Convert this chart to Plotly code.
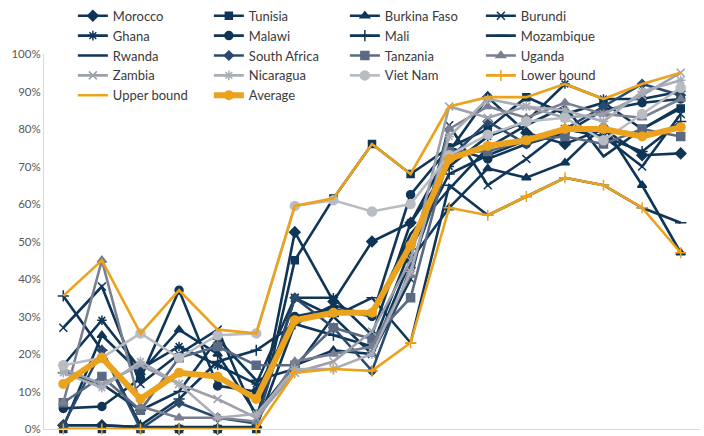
import plotly.graph_objects as go

periods = ["P1", "P2", "P3", "P4", "P5", "P6", "P7", "P8", "P9",
           "P10", "P11", "P12", "P13", "P14", "P15", "P16", "P17"]

morocco      = [1, 1, 0.5, 0, 0, 0.5, 52.5, 34, 50, 55, 74, 88.5, 79, 76, 80, 73, 73.5]
tunisia      = [0, 0, 0, 0, 0, 0, 45, 61.5, 76, 68, 75, 80, 88.5, 84, 87, 80, 85.5]
burkina_faso = [0.5, 25, 15, 26.5, 20, 4, 17, 21, 20, 45, 59, 69.5, 67, 71, 81, 65, 47]
burundi      = [27, 38, 12, 20, 26.5, 3, 35, 30, 20, 40, 81, 65, 72, 80, 78, 70, 84]
ghana        = [17, 29, 16, 22, 17, 12, 35, 35, 25, 55, 70, 78, 82, 92, 88, 88, 90]
malawi       = [5.5, 6, 13.5, 37, 11.5, 10, 30, 32, 30, 62.5, 75, 72, 76, 79, 85, 87, 88]
mali         = [35.5, 21, 1, 8, 18, 21, 28, 25, 22, 48, 68, 73, 77, 80, 78, 74, 82]
mozambique   = [15, 12, 5, 10, 24, 13, 16, 30, 35, 23, 65, 57, 62, 67, 65, 59, 55]
rwanda       = [1, 1, 0.5, 0.5, 0.5, 0.5, 28, 33, 30, 52, 64, 75, 81, 86, 72.7, 80, 86]
south_africa = [1, 21, 0, 7, 3, 1.5, 35, 27, 15.5, 43, 72, 82, 76, 80, 86, 92, 89]
tanzania     = [7, 14, 5, 19, 22, 17, 17, 27, 24, 35, 74, 74, 77, 78, 76, 80, 78]
uganda       = [7, 45, 6, 3, 3, 2, 18, 20, 22, 41, 80, 86, 83, 87, 84, 83, 88]
zambia       = [16, 12, 17, 12, 8, 3, 15, 18, 26, 45, 86, 83, 86, 83, 84, 89, 95]
nicaragua    = [15, 11, 18, 12, 3, 4, 16, 16, 20, 42, 78, 88, 86, 85, 82, 90, 93]
viet_nam     = [17, 19, 25.5, 19, 25, 25.5, 59.5, 61, 58, 60, 73, 78.5, 82, 83, 77, 84, 91]
lower_bound  = [0, 0, 0, 0, 0, 0, 15, 16, 15.5, 23, 59, 57, 62, 67, 65, 59, 47]
upper_bound  = [35.5, 45, 25.5, 37, 26.5, 25.5, 59.5, 61.5, 76, 68, 86, 88.5, 88.5, 92, 88, 92, 95]
average      = [12, 19, 8, 15, 14, 8, 29, 31, 31, 49, 72, 75.5, 77, 80, 80, 78, 80.5]

y_ticks = [0, 10, 20, 30, 40, 50, 60, 70, 80, 90, 100]
y_tick_labels = ["0%", "10%", "20%", "30%", "40%", "50%", "60%", "70%", "80%", "90%", "100%"]

NAVY = "#0f3557"
SA = "#2b4a6e"
TZ = "#5b6a83"
UG = "#7a7f90"
ZM = "#9ca0ac"
NI = "#a9adb7"
VN = "#b9bcc3"
ORANGE = "#eba21d"

series = [
    ("Morocco", morocco, NAVY, "diamond", 8),
    ("Tunisia", tunisia, NAVY, "square", 7),
    ("Burkina Faso", burkina_faso, NAVY, "triangle-up", 8),
    ("Burundi", burundi, NAVY, "x-thin-open", 8),
    ("Ghana", ghana, NAVY, "asterisk-open", 8),
    ("Malawi", malawi, NAVY, "circle", 8),
    ("Mali", mali, NAVY, "cross-thin-open", 8),
    ("Mozambique", mozambique, NAVY, "line-ew-open", 8),
    ("Rwanda", rwanda, NAVY, None, 0),
    ("South Africa", south_africa, SA, "diamond", 7),
    ("Tanzania", tanzania, TZ, "square", 8),
    ("Uganda", uganda, UG, "triangle-up", 8),
    ("Zambia", zambia, ZM, "x-thin-open", 8),
    ("Nicaragua", nicaragua, NI, "asterisk-open", 8),
    ("Viet Nam", viet_nam, VN, "circle", 9),
]

fig = go.Figure()
for name, vals, col, sym, size in series:
    if sym is None:
        fig.add_trace(go.Scatter(x=periods, y=vals, name=name, mode="lines",
                                 line=dict(color=col, width=2.6), cliponaxis=False))
    else:
        fig.add_trace(go.Scatter(x=periods, y=vals, name=name, mode="lines+markers",
                                 line=dict(color=col, width=2.6),
                                 marker=dict(symbol=sym, size=size, color=col,
                                             line=dict(color=col, width=1.5)),
                                 cliponaxis=False))

fig.add_trace(go.Scatter(x=periods, y=lower_bound, name="Lower bound", mode="lines+markers",
                         line=dict(color=ORANGE, width=2.6),
                         marker=dict(symbol="cross-thin-open", size=8, color=ORANGE,
                                     line=dict(color=ORANGE, width=1.5)),
                         cliponaxis=False))
fig.add_trace(go.Scatter(x=periods, y=upper_bound, name="Upper bound", mode="lines",
                         line=dict(color=ORANGE, width=2.6), cliponaxis=False))
fig.add_trace(go.Scatter(x=periods, y=average, name="Average", mode="lines+markers",
                         line=dict(color=ORANGE, width=6),
                         marker=dict(symbol="circle", size=10, color=ORANGE),
                         cliponaxis=False))

fig.update_layout(
    width=704, height=436,
    margin=dict(l=44, r=4, t=54, b=7, autoexpand=False),
    paper_bgcolor="white", plot_bgcolor="white",
    font=dict(family="Lato, sans-serif", color="#595959", size=12),
    showlegend=True,
    legend=dict(orientation="h", x=0.044, xanchor="left", y=1.142, yanchor="top",
                entrywidth=91, entrywidthmode="pixels",
                font=dict(size=13, color="#3a3a3a"), bgcolor="rgba(0,0,0,0)",
                itemclick=False, traceorder="normal"),
    xaxis=dict(type="category", categoryorder="array", categoryarray=periods,
               range=[-0.5, 16.5], showticklabels=False, ticks="",
               showgrid=False, zeroline=False, showline=True,
               linecolor="#d9d9d9", linewidth=1),
    yaxis=dict(range=[0, 100], tickmode="array", tickvals=y_ticks, ticktext=y_tick_labels,
               showgrid=False, zeroline=False, showline=True,
               linecolor="#d9d9d9", linewidth=1, ticks="",
               ticklabeloverflow="allow",
               tickfont=dict(size=11.5, color="#595959")),
)

fig.write_html("out.html")
